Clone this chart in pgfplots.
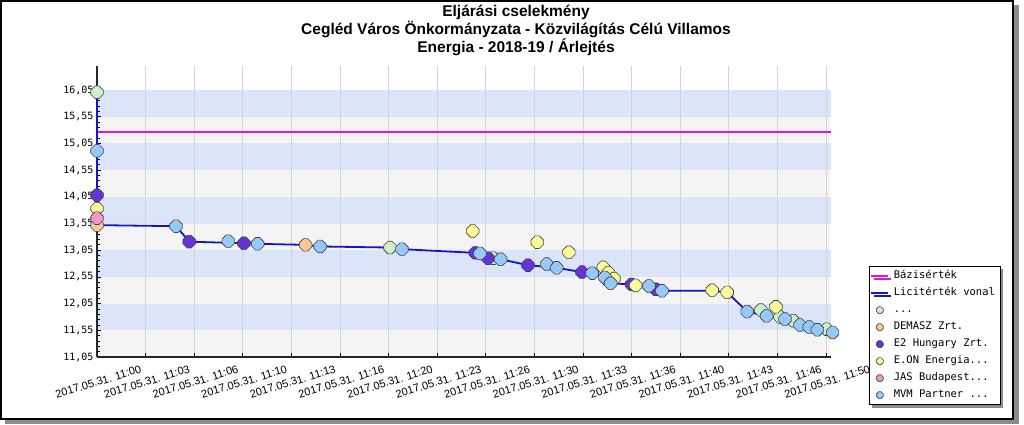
\documentclass[border=0pt]{standalone}
\usepackage{pgfplots}
\pgfplotsset{compat=1.18}
\usepackage{fontspec}
\setmainfont{Liberation Sans}
\newfontfamily\monofont{DejaVu Sans Mono}
\usetikzlibrary{shadows}

\definecolor{bandblue}{RGB}{220,228,250}
\definecolor{bandgrey}{RGB}{244,244,244}
\definecolor{gridc}{RGB}{212,212,212}
\definecolor{cgreen}{RGB}{204,240,200}
\definecolor{corange}{RGB}{250,200,150}
\definecolor{cpurple}{RGB}{102,51,214}
\definecolor{cyellow}{RGB}{250,250,150}
\definecolor{cpink}{RGB}{240,150,200}
\definecolor{cblue}{RGB}{150,200,250}
\definecolor{cline}{RGB}{20,20,200}
\definecolor{cmag}{RGB}{220,20,220}

\pgfdeclareplotmark{oct}{%
  \pgfpathmoveto{\pgfpoint{0.32\pgfplotmarksize}{\pgfplotmarksize}}%
  \pgfpathlineto{\pgfpoint{\pgfplotmarksize}{0.32\pgfplotmarksize}}%
  \pgfpathlineto{\pgfpoint{\pgfplotmarksize}{-0.32\pgfplotmarksize}}%
  \pgfpathlineto{\pgfpoint{0.32\pgfplotmarksize}{-\pgfplotmarksize}}%
  \pgfpathlineto{\pgfpoint{-0.32\pgfplotmarksize}{-\pgfplotmarksize}}%
  \pgfpathlineto{\pgfpoint{-\pgfplotmarksize}{-0.32\pgfplotmarksize}}%
  \pgfpathlineto{\pgfpoint{-\pgfplotmarksize}{0.32\pgfplotmarksize}}%
  \pgfpathlineto{\pgfpoint{-0.32\pgfplotmarksize}{\pgfplotmarksize}}%
  \pgfpathclose
  \pgfusepathqfillstroke}

\begin{document}
\begin{tikzpicture}
\node[font=\bfseries\fontsize{15.5}{18}\selectfont, align=center] at (516pt,395pt)
  {Eljárási cselekmény\\Cegléd Város Önkormányzata - Közvilágítás Célú Villamos\\Energia - 2018-19 / Árlejtés};
\begin{axis}[
  at={(97pt,68pt)}, anchor=south west,
  scale only axis, width=734pt, height=291pt,
  xmin=0, xmax=50.35, ymin=11.05, ymax=16.5,
  axis x line*=bottom, axis y line*=left,
  axis line style={-, line width=1.2pt, black!85},
  set layers, clip=false,
  xtick={0,3.33333,6.66667,10,13.33333,16.66667,20,23.33333,26.66667,30,33.33333,36.66667,40,43.33333,46.66667,50},
  xticklabels={2017.05.31. 11:00,2017.05.31. 11:03,2017.05.31. 11:06,2017.05.31. 11:10,2017.05.31. 11:13,2017.05.31. 11:16,2017.05.31. 11:20,2017.05.31. 11:23,2017.05.31. 11:26,2017.05.31. 11:30,2017.05.31. 11:33,2017.05.31. 11:36,2017.05.31. 11:40,2017.05.31. 11:43,2017.05.31. 11:46,2017.05.31. 11:50},
  ytick={11.05,11.55,12.05,12.55,13.05,13.55,14.05,14.55,15.05,15.55,16.05},
  yticklabels={{11,05},{11,55},{12,05},{12,55},{13,05},{13,55},{14,05},{14,55},{15,05},{15,55},{16,05}},
  minor x tick num=1, minor y tick num=4,
  tick align=inside, major tick length=4pt, minor tick length=2.5pt,
  tick style={black, line width=0.8pt},
  xmajorgrids, major x grid style={gridc, line width=0.8pt},
  xticklabel style={rotate=17, anchor=center, yshift=-24pt, xshift=-6pt, font=\fontsize{11}{13}\selectfont},
  yticklabel style={font=\monofont\fontsize{10}{12}\selectfont},
  legend style={at={(1,1)}, anchor=north west, xshift=38pt, yshift=-200pt,
    draw=black, line width=0.8pt, fill=white,
    drop shadow={shadow xshift=3pt, shadow yshift=-3pt, fill=black!45, opacity=1},
    font=\monofont\fontsize{10.5}{12}\selectfont,
    inner xsep=1pt, inner ysep=3pt, row sep=3.5pt,
    nodes={inner ysep=1.5pt, inner xsep=4.5pt, text height=8pt, text depth=2.5pt},
    cells={anchor=west}},
  legend image post style={mark size=3.5pt},
]
\begin{pgfonlayer}{axis background}
\fill[bandgrey] (axis cs:0,11.05) rectangle (axis cs:50.35,11.55);
\fill[bandblue] (axis cs:0,11.55) rectangle (axis cs:50.35,12.05);
\fill[bandgrey] (axis cs:0,12.05) rectangle (axis cs:50.35,12.55);
\fill[bandblue] (axis cs:0,12.55) rectangle (axis cs:50.35,13.05);
\fill[bandgrey] (axis cs:0,13.05) rectangle (axis cs:50.35,13.55);
\fill[bandblue] (axis cs:0,13.55) rectangle (axis cs:50.35,14.05);
\fill[bandgrey] (axis cs:0,14.05) rectangle (axis cs:50.35,14.55);
\fill[bandblue] (axis cs:0,14.55) rectangle (axis cs:50.35,15.05);
\fill[bandgrey] (axis cs:0,15.05) rectangle (axis cs:50.35,15.55);
\fill[bandblue] (axis cs:0,15.55) rectangle (axis cs:50.35,16.05);
\end{pgfonlayer}

\addplot[cmag, line width=1.5pt] coordinates {(0,15.26) (50.35,15.26)};
\addlegendentry{Bázisérték}

\addplot[cline, line width=1.8pt] coordinates {
(0,16.01) (0,13.52) (5.42,13.50) (6.33,13.21) (10.08,13.18) (11.02,13.17)
(14.31,13.15) (15.30,13.12) (20.10,13.10) (20.92,13.07) (25.95,13.00) (26.27,12.99)
(26.82,12.90) (27.69,12.88) (29.56,12.77) (31.53,12.72) (33.27,12.64) (33.97,12.62)
(34.91,12.52) (35.23,12.43) (36.67,12.41) (37.86,12.38) (38.32,12.32) (38.75,12.29)
(42.20,12.29) (43.23,12.26) (44.60,11.90) (45.93,11.82) (46.85,11.80) (47.19,11.76)
(47.76,11.73) (48.22,11.65) (48.86,11.61) (49.41,11.56) (50.46,11.51)};
\addlegendentry{Licitérték vonal}

\addplot[only marks, mark=oct, mark size=6.3pt, mark options={fill=cgreen, draw=black!75, line width=0.6pt}] coordinates {
(0,16.01) (20.10,13.10) (27.18,12.90) (45.54,11.93) (46.85,11.80) (47.76,11.73) (50.05,11.57)};
\addlegendentry{...}

\addplot[only marks, mark=oct, mark size=6.3pt, mark options={fill=corange, draw=black!75, line width=0.6pt}] coordinates {
(0,13.52) (14.31,13.15)};
\addlegendentry{DEMASZ Zrt.}

\addplot[only marks, mark=oct, mark size=6.3pt, mark options={fill=cpurple, draw=black!75, line width=0.6pt}] coordinates {
(0,14.08) (6.33,13.21) (10.08,13.18) (25.95,13.00) (26.82,12.90) (29.56,12.77)
(33.27,12.64) (34.91,12.52) (36.67,12.41) (38.32,12.32)};
\addlegendentry{E2 Hungary Zrt.}

\addplot[only marks, mark=oct, mark size=6.3pt, mark options={fill=cyellow, draw=black!75, line width=0.6pt}] coordinates {
(0,13.83) (25.77,13.41) (30.20,13.20) (32.37,13.01) (34.73,12.73) (35.07,12.63)
(35.46,12.52) (36.95,12.39) (42.20,12.30) (43.23,12.26) (46.57,11.99)};
\addlegendentry{E.ON Energia...}

\addplot[only marks, mark=oct, mark size=6.3pt, mark options={fill=cpink, draw=black!75, line width=0.6pt}] coordinates {
(0,13.65)};
\addlegendentry{JAS Budapest...}

\addplot[only marks, mark=oct, mark size=6.3pt, mark options={fill=cblue, draw=black!75, line width=0.6pt}] coordinates {
(0,14.91) (5.42,13.50) (9.01,13.22) (11.02,13.17) (15.30,13.12) (20.92,13.07)
(26.27,12.99) (27.69,12.88) (30.85,12.79) (31.53,12.72) (33.97,12.62) (34.84,12.54)
(35.23,12.43) (37.86,12.38) (38.75,12.29) (44.60,11.90) (45.93,11.82) (47.19,11.76)
(48.22,11.65) (48.86,11.61) (49.41,11.56) (50.46,11.51)};
\addlegendentry{MVM Partner ...}
\end{axis}
\draw[black, line width=2pt] (1pt,5.5pt) rectangle (1013pt,424pt);
\fill[black!45] (1014pt,1pt) rectangle (1019pt,420pt);
\fill[black!45] (5pt,1pt) rectangle (1019pt,4.5pt);
\path (0pt,0pt) rectangle (1024pt,425pt);
\end{tikzpicture}
\end{document}
